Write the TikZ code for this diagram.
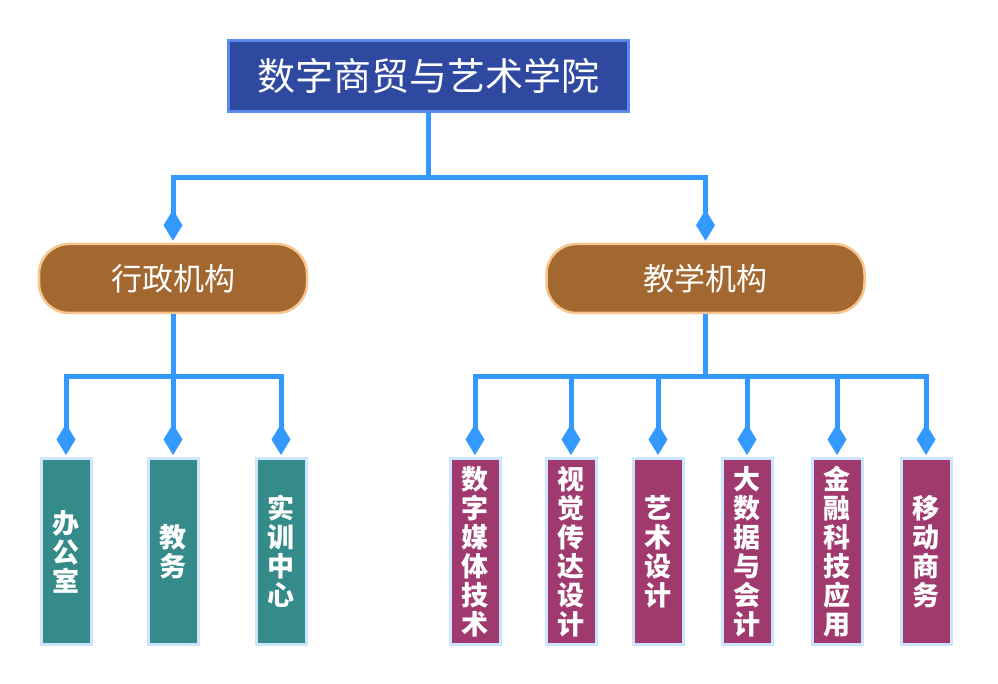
\documentclass[tikz,border=0pt]{standalone}
\usepackage{fontspec}
\newfontfamily\cjk{Noto Sans CJK SC}
\usetikzlibrary{arrows.meta}

\definecolor{deanblue}{RGB}{47,72,160}
\definecolor{deanedge}{RGB}{92,134,240}
\definecolor{unitbrown}{RGB}{163,103,48}
\definecolor{unitedge}{RGB}{247,198,142}
\definecolor{officeteal}{RGB}{53,138,138}
\definecolor{majorplum}{RGB}{160,57,110}
\definecolor{leafedge}{RGB}{204,229,255}
\definecolor{linkblue}{RGB}{51,153,255}

\begin{document}
\begin{tikzpicture}
  [x=1pt,y=-1pt,
   every node/.style={inner sep=0pt,text=white,align=center},
   college/.style={fill=deanblue,draw=deanedge,line width=3pt,
     minimum width=400pt,minimum height=71pt,font=\cjk\fontsize{38}{40}\selectfont},
   branch/.style={fill=unitbrown,draw=unitedge,line width=2.5pt,rounded corners=30pt,
     minimum width=268pt,minimum height=69pt,font=\cjk\fontsize{31}{34}\selectfont},
   leaf/.style={draw=leafedge,line width=3pt,minimum width=50pt,minimum height=186pt,
     font=\cjk\bfseries\fontsize{27}{29}\selectfont},
   office/.style={leaf,fill=officeteal},
   major/.style={leaf,fill=majorplum},
   link/.style={draw=linkblue,line width=5pt,-{Diamond[length=31pt,width=19pt]},shorten >=2pt}]

  \useasboundingbox (0,0) rectangle (998,684);

  \node[college] (school) at (428.5,76) {数字商贸与艺术学院};

  \node[branch] (admin) at (173,278.5) {行政机构};
  \node[branch,minimum width=318pt] (teach) at (705.5,278.5) {教学机构};

  \node[office] (ban)   at (66,551.5)  {办\\公\\室};
  \node[office] (jiao)  at (173,551.5) {教\\务};
  \node[office] (shixun) at (281,551.5) {实\\训\\中\\心};

  \node[major] (media)  at (475,551.5) {数\\字\\媒\\体\\技\\术};
  \node[major] (visual) at (571,551.5) {视\\觉\\传\\达\\设\\计};
  \node[major] (art)    at (658,551.5) {艺\\术\\设\\计};
  \node[major] (data)   at (747,551.5) {大\\数\\据\\与\\会\\计};
  \node[major] (fintech) at (837,551.5) {金\\融\\科\\技\\应\\用};
  \node[major] (mobile) at (926,551.5) {移\\动\\商\\务};

  % bus lines
  \coordinate (topbus) at (0,178);
  \coordinate (lowbus) at (0,376);

  \foreach \from/\bus/\to in {school/topbus/admin,school/topbus/teach,
      admin/lowbus/ban,admin/lowbus/jiao,admin/lowbus/shixun,
      teach/lowbus/media,teach/lowbus/visual,teach/lowbus/art,
      teach/lowbus/data,teach/lowbus/fintech,teach/lowbus/mobile}
    \draw[link] (\from.south) -- (\from.south |- \bus) -| (\to.north);

\end{tikzpicture}
\end{document}
